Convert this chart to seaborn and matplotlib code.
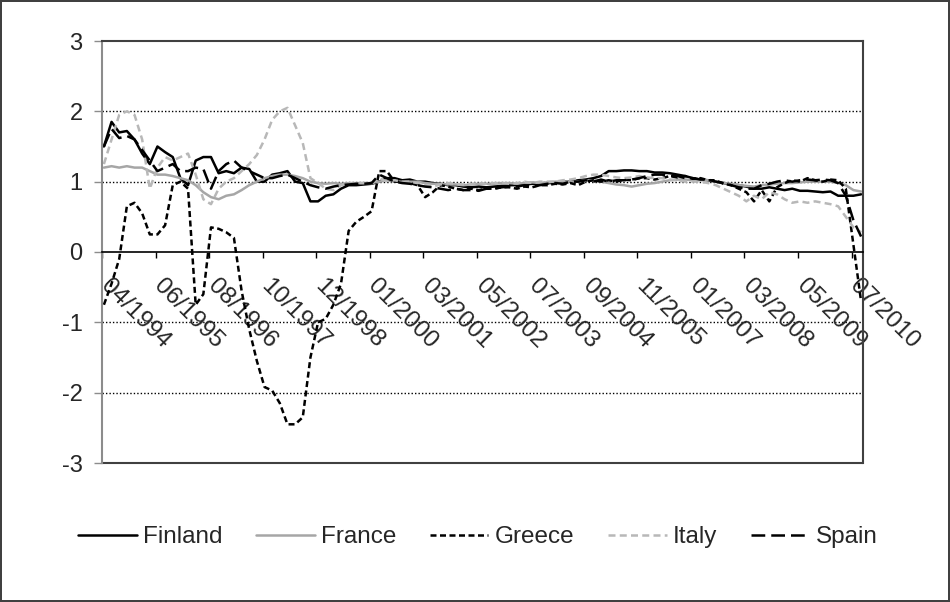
import numpy as np
import pandas as pd
import matplotlib
matplotlib.use("Agg")
import matplotlib.pyplot as plt
import matplotlib.transforms as mtransforms
import seaborn as sns

# month index (every second month from 04/1994)
months = list(range(0, 199, 2))

finland = [1.5, 1.85, 1.7, 1.72, 1.6, 1.4, 1.25, 1.5, 1.42, 1.35,
           1.05, 0.95, 1.3, 1.35, 1.35, 1.12, 1.15, 1.12, 1.2, 1.18,
           1.0, 1.0, 1.1, 1.12, 1.15, 1.0, 0.98, 0.72, 0.72, 0.8,
           0.82, 0.9, 0.95, 0.95, 0.96, 0.97, 1.0, 1.05, 1.05, 1.02,
           1.03, 1.0, 1.0, 0.98, 0.97, 0.95, 0.95, 0.93, 0.92, 0.93,
           0.92, 0.93, 0.94, 0.95, 0.95, 0.96, 0.97, 0.97, 0.98, 0.98,
           1.0, 1.0, 1.02, 1.03, 1.05, 1.08, 1.15, 1.15, 1.16, 1.16,
           1.15, 1.15, 1.13, 1.13, 1.12, 1.1, 1.08, 1.05, 1.03, 1.02,
           1.0, 0.98, 0.96, 0.95, 0.93, 0.9, 0.9, 0.92, 0.9, 0.88,
           0.9, 0.87, 0.87, 0.86, 0.85, 0.86, 0.8, 0.8, 0.8, 0.82]

france = [1.2, 1.22, 1.2, 1.22, 1.2, 1.2, 1.15, 1.1, 1.1, 1.08,
          1.05, 1.02, 0.95, 0.85, 0.78, 0.75, 0.8, 0.82, 0.88, 0.95,
          1.0, 1.05, 1.08, 1.1, 1.1, 1.08, 1.05, 1.0, 0.98, 0.97,
          0.98, 0.97, 0.98, 0.98, 0.98, 0.98, 1.0, 1.02, 1.0, 1.0,
          1.0, 1.0, 0.98, 0.97, 0.97, 0.96, 0.96, 0.95, 0.96, 0.97,
          0.97, 0.97, 0.98, 0.98, 0.97, 0.98, 0.99, 0.98, 0.99, 1.0,
          1.0, 1.0, 1.0, 1.02, 1.02, 1.0, 0.98, 0.96, 0.95, 0.93,
          0.95, 0.97, 0.98, 1.0, 1.02, 1.03, 1.03, 1.02, 1.02, 1.02,
          1.0, 0.98, 0.97, 0.95, 0.94, 0.93, 0.95, 0.96, 0.97, 0.98,
          0.98, 0.99, 1.0, 1.0, 1.0, 1.0, 0.98, 0.95, 0.88, 0.86]

greece = [-0.75, -0.45, -0.1, 0.65, 0.7, 0.55, 0.25, 0.25, 0.38, 0.95,
          1.0, 0.9, -0.75, -0.6, 0.35, 0.33, 0.28, 0.2, -0.55, -1.1,
          -1.55, -1.92, -1.97, -2.15, -2.45, -2.45, -2.35, -1.5, -1.0, -0.95,
          -0.75, -0.45, 0.3, 0.43, 0.5, 0.58, 1.15, 1.15, 1.0, 1.0,
          0.98, 0.95, 0.78, 0.85, 0.95, 0.93, 0.9, 0.88, 0.9, 0.88,
          0.9, 0.9, 0.92, 0.92, 0.9, 0.93, 0.92, 0.95, 0.95, 0.97,
          0.96, 0.98, 0.95, 1.0, 1.02, 1.0, 1.02, 1.0, 1.03, 1.02,
          1.05, 1.05, 1.03, 1.05, 1.08, 1.06, 1.08, 1.04, 1.05, 1.02,
          1.02, 0.97, 0.95, 0.9, 0.85, 0.72, 0.88, 0.72, 0.92, 0.98,
          1.02, 1.0, 1.05, 1.02, 1.0, 1.03, 1.02, 0.9, 0.1, -0.7]

italy = [1.25, 1.6, 1.95, 2.0, 1.95, 1.6, 0.9, 1.2, 1.35, 1.3,
         1.35, 1.4, 1.1, 0.75, 0.68, 0.9, 1.0, 1.05, 1.15, 1.25,
         1.38, 1.6, 1.88, 2.0, 2.05, 1.8, 1.55, 1.05, 0.98, 0.9,
         0.88, 0.95, 0.97, 0.98, 0.98, 0.98, 1.05, 1.0, 1.02, 1.0,
         1.0, 0.98, 0.95, 0.93, 0.96, 0.98, 0.97, 0.96, 0.97, 0.98,
         0.97, 0.98, 0.98, 0.97, 0.98, 1.0, 0.98, 1.0, 1.0, 1.0,
         1.02, 1.03, 1.05, 1.08, 1.1, 1.1, 1.08, 1.06, 1.05, 1.06,
         1.08, 1.06, 1.05, 1.05, 1.03, 1.02, 1.0, 1.0, 1.0, 0.98,
         0.95, 0.9, 0.85, 0.8, 0.72, 0.8, 0.75, 0.85, 0.82, 0.75,
         0.7, 0.72, 0.7, 0.72, 0.7, 0.68, 0.65, 0.5, 0.35, 0.28]

spain = [1.5, 1.75, 1.62, 1.65, 1.6, 1.45, 1.3, 1.15, 1.2, 1.25,
         1.15, 1.15, 1.2, 1.18, 0.9, 1.15, 1.25, 1.3, 1.2, 1.15,
         1.1, 1.05, 1.05, 1.08, 1.1, 1.05, 1.0, 0.95, 0.92, 0.9,
         0.93, 0.95, 0.96, 0.97, 0.97, 0.98, 1.1, 1.05, 1.0, 0.98,
         0.97, 0.95, 0.93, 0.92, 0.9, 0.88, 0.9, 0.88, 0.88, 0.87,
         0.9, 0.9, 0.92, 0.93, 0.93, 0.95, 0.93, 0.95, 0.97, 0.98,
         0.97, 1.0, 1.0, 1.02, 1.0, 1.03, 1.0, 1.02, 1.02, 1.03,
         1.05, 1.08, 1.1, 1.1, 1.08, 1.08, 1.05, 1.05, 1.03, 1.03,
         1.0, 0.98, 0.95, 0.92, 0.9, 0.9, 0.95, 0.97, 1.0, 1.02,
         1.0, 1.02, 1.03, 1.02, 1.03, 1.02, 0.98, 0.8, 0.45, 0.22]

tick_labels = ["04/1994", "06/1995", "08/1996", "10/1997", "12/1998",
               "01/2000", "03/2001", "05/2002", "07/2003", "09/2004",
               "11/2005", "01/2007", "03/2008", "05/2009", "07/2010"]

countries = ["Finland", "France", "Greece", "Italy", "Spain"]
series = [finland, france, greece, italy, spain]


def build_frame():
    rows = []
    for name, vals in zip(countries, series):
        for m, v in zip(months, vals):
            rows.append({"month": m, "value": v, "country": name})
    return pd.DataFrame(rows)


def main():
    sns.set_style("white")
    plt.rcParams["font.family"] = ["Liberation Sans", "DejaVu Sans"]
    plt.rcParams["axes.unicode_minus"] = False

    df = build_frame()

    fig = plt.figure(figsize=(9.5, 6.02), dpi=100)
    fig.patch.set_edgecolor("#404040")
    fig.patch.set_linewidth(1.5)
    ax = fig.add_axes([102 / 950, 1 - 463 / 602, 761 / 950, 422 / 602])

    palette = {"Finland": "black", "France": "#a6a6a6", "Greece": "black",
               "Italy": "#b8b8b8", "Spain": "black"}
    dashes = {"Finland": "", "France": "", "Greece": (2.4, 1.4),
              "Italy": (2.8, 1.7), "Spain": (5.5, 2.4)}

    sns.lineplot(data=df, x="month", y="value", hue="country", style="country",
                 palette=palette, dashes=dashes, linewidth=1.8, errorbar=None,
                 ax=ax)

    # spines first: moving a spine resets the ticks
    ax.spines["bottom"].set_position(("data", 0))
    ax.spines["bottom"].set_color("black")
    ax.spines["bottom"].set_linewidth(1.2)
    ax.spines["left"].set_color("#8c8c8c")
    ax.spines["left"].set_linewidth(1.5)
    for s in ["top", "right"]:
        ax.spines[s].set_color("#404040")
        ax.spines[s].set_linewidth(1.5)
    ax.axhline(-3, color="#404040", lw=1.5, clip_on=False)

    ax.set_xlim(-0.5, 198.5)
    ax.set_ylim(-3, 3)
    ax.set_xlabel("")
    ax.set_ylabel("")

    # dotted gridlines
    for y in [-2, -1, 1, 2]:
        ax.axhline(y, color="black", lw=1, dashes=(1, 1.5), zorder=0)

    ax.set_yticks(range(-3, 4))
    ax.set_yticklabels([str(v) for v in range(-3, 4)])
    ax.tick_params(axis="y", direction="out", length=6, width=1,
                   color="#8c8c8c", pad=8, labelsize=17, left=True)

    ax.set_xticks(np.arange(0, 197, 14) - 0.5)
    ax.set_xticklabels(tick_labels)
    ax.tick_params(axis="x", direction="out", length=4.5, width=1,
                   color="black", pad=18, labelsize=17.5, bottom=True,
                   labelrotation=-45)
    offset = mtransforms.ScaledTranslation(2 / 100, 0, fig.dpi_scale_trans)
    for lab in ax.get_xticklabels():
        lab.set_rotation_mode("anchor")
        lab.set_ha("left")
        lab.set_va("center")
        lab.set_transform(lab.get_transform() + offset)

    handles, labels = ax.get_legend_handles_labels()
    ax.get_legend().remove()
    fig.legend(handles, labels, loc="center", bbox_to_anchor=(0.503, 1 - 537 / 602),
               ncol=5, frameon=False, fontsize=17.5, handlelength=2.4,
               handletextpad=0.25, columnspacing=1.4)

    fig.savefig("out.png", dpi=100)
    plt.close(fig)


if __name__ == "__main__":
    main()
